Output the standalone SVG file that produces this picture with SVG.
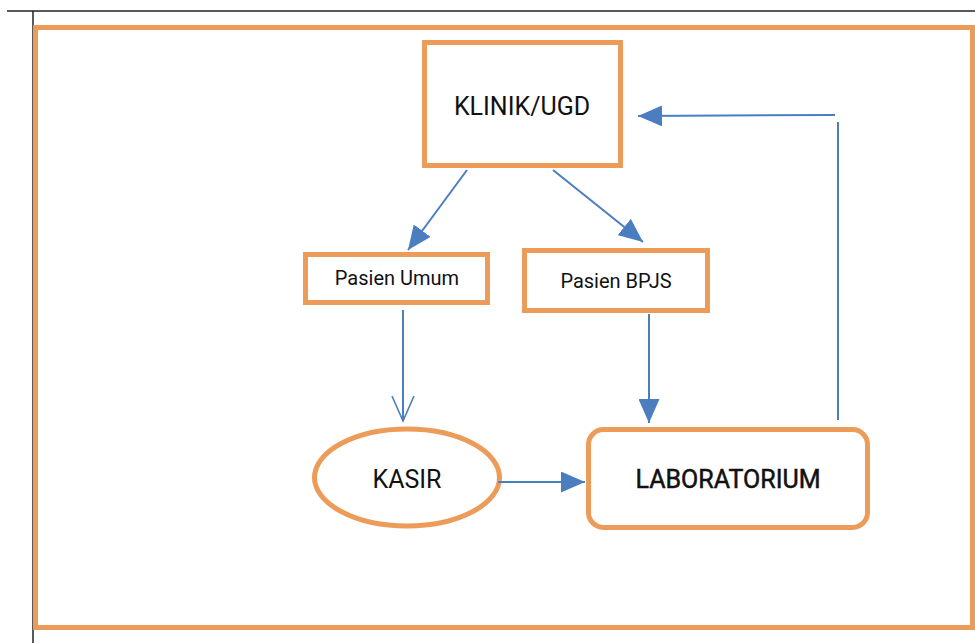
<svg xmlns="http://www.w3.org/2000/svg" width="975" height="643" viewBox="0 0 975 643">
  <defs>
    <marker id="tri" markerUnits="userSpaceOnUse" markerWidth="25" markerHeight="21" refX="24" refY="10.5" orient="auto">
      <path d="M0,0 L24,10.5 L0,21 z" fill="#4A7EBF"/>
    </marker>
    <marker id="vee" markerUnits="userSpaceOnUse" markerWidth="28" markerHeight="26" refX="26" refY="12" orient="auto">
      <path d="M1,1 L26,12 L1,23" fill="none" stroke="#4A7EBF" stroke-width="1.6"/>
    </marker>
    <style>
      .frame { fill: none; stroke: #222; stroke-width: 1.5; }
      .node { fill: #fff; stroke: #ED9B58; stroke-width: 5; }
      .lbl { font-family: Roboto, "Liberation Sans", sans-serif; fill: #111; text-anchor: middle; }
      .big { font-size: 25px; }
      .small { font-size: 20px; }
      .edge { fill: none; stroke: #4A7EBF; stroke-width: 2; }
    </style>
  </defs>
  <rect width="975" height="643" fill="#fff"/>
  <g id="page-lines">
    <line class="frame" x1="7" y1="11" x2="975" y2="11"/>
    <line class="frame" x1="33" y1="11" x2="33" y2="643"/>
  </g>
  <rect id="outer-frame" x="35.5" y="27.5" width="937" height="600" fill="#fff" stroke="#ED9B58" stroke-width="5"/>

  <g id="klinik">
    <rect class="node" x="424.5" y="42.5" width="196" height="123"/>
    <text class="lbl big" x="522" y="115">KLINIK/UGD</text>
  </g>
  <g id="pasien-umum">
    <rect class="node" x="305.5" y="254.5" width="182" height="48"/>
    <text class="lbl small" x="397" y="285">Pasien Umum</text>
  </g>
  <g id="pasien-bpjs">
    <rect class="node" x="524.5" y="250.5" width="183" height="60"/>
    <text class="lbl small" x="616" y="288">Pasien BPJS</text>
  </g>
  <g id="kasir">
    <ellipse class="node" cx="407" cy="477.5" rx="92.5" ry="48.5"/>
    <text class="lbl big" x="407" y="488">KASIR</text>
  </g>
  <g id="laboratorium">
    <rect class="node" x="588.5" y="429.5" width="279" height="98" rx="15" ry="15"/>
    <text class="lbl big" x="728" y="488" stroke="#111" stroke-width="0.5">LABORATORIUM</text>
  </g>

  <g id="connectors">
    <line class="edge" x1="467" y1="170" x2="408" y2="250" marker-end="url(#tri)"/>
    <line class="edge" x1="553" y1="170" x2="643" y2="242" marker-end="url(#tri)"/>
    <line class="edge" x1="403" y1="310" x2="403" y2="421" marker-end="url(#vee)"/>
    <line class="edge" x1="649" y1="314" x2="649" y2="423" marker-end="url(#tri)"/>
    <line class="edge" x1="498" y1="482" x2="585" y2="482" marker-end="url(#tri)"/>
    <line class="edge" x1="838" y1="420" x2="838" y2="122"/>
    <line class="edge" x1="835" y1="115" x2="638" y2="116" marker-end="url(#tri)"/>
  </g>
</svg>
